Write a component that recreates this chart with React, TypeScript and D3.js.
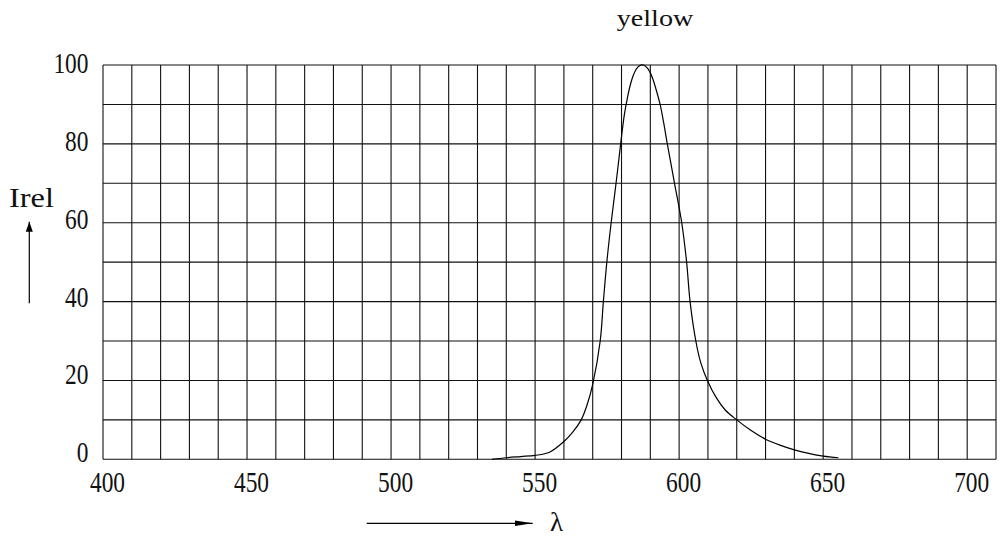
import React from "react";
import * as d3 from "d3";

const xTicks = [400, 450, 500, 550, 600, 650, 700];
const yTicks = [0, 20, 40, 60, 80, 100];
const xGrid = d3.range(400, 711, 10);
const yGrid = d3.range(0, 101, 10);

const wavelength = [535, 540, 545, 550, 555, 560, 563, 566, 568, 570, 572.6, 573.7, 574.9, 576.4, 578.1, 579.7, 581, 582, 583, 584, 585, 586, 587.6, 589, 590, 591, 592, 593.4, 594.6, 595.9, 598.4, 600.9, 602.6, 603.8, 605.8, 607.5, 609.8, 613, 616, 620, 625, 630, 635, 640, 645, 650, 655.3];
const intensity = [0, 0.4, 0.7, 1.0, 1.8, 4.5, 6.8, 10, 13.7, 19, 30, 40, 50, 60, 70, 80, 87.5, 91.5, 94.8, 97.2, 98.8, 99.7, 100, 99.2, 98, 96.2, 93.8, 90, 85.5, 80, 70, 60, 50, 40, 30, 24.5, 20, 15.5, 12.5, 10, 7.3, 5.1, 3.6, 2.4, 1.5, 0.8, 0.4];

const seriesLabel = "yellow";
const yTitle = "Irel";
const xTitle = "λ";

export default function App() {
  const x = d3.scaleLinear().domain([400, 710]).range([103, 996]);
  const y = d3.scaleLinear().domain([0, 100]).range([459.3, 65]);
  const pts: [number, number][] = wavelength.map((w, i) => [w, intensity[i]]);
  const line = d3
    .line<[number, number]>()
    .x((d) => x(d[0]))
    .y((d) => y(d[1]))
    .curve(d3.curveCatmullRom.alpha(0.5));
  const font = "'Liberation Serif', 'DejaVu Serif', serif";
  return (
    <svg
      width={1000}
      height={537}
      style={{ position: "absolute", left: 0, top: 0, background: "#fff" }}
    >
      <rect x={0} y={0} width={1000} height={537} fill="#fff" />
      <defs>
        <marker id="ah" viewBox="0 0 10 10" refX="10" refY="5" markerWidth="10" markerHeight="10" markerUnits="userSpaceOnUse" orient="auto">
          <path d="M0,1.5 L10,5 L0,8.5 Z" fill="#000" />
        </marker>
        <marker id="ah2" viewBox="0 0 18 10" refX="18" refY="5" markerWidth="18" markerHeight="8" markerUnits="userSpaceOnUse" orient="auto" preserveAspectRatio="none">
          <path d="M0,1.5 L18,5 L0,8.5 Z" fill="#000" />
        </marker>
      </defs>
      <g stroke="#111" strokeWidth={1.1} fill="none">
        {xGrid.map((v) => (
          <line key={"xv" + v} x1={x(v)} x2={x(v)} y1={y(0)} y2={y(100)} />
        ))}
        {yGrid.map((v) => (
          <line key={"yh" + v} x1={x(400)} x2={x(710)} y1={y(v)} y2={y(v)} />
        ))}
      </g>
      <path d={line(pts) || ""} fill="none" stroke="#000" strokeWidth={1.2} />
      <g fontFamily={font} fontSize={29} fill="#111">
        {xTicks.map((v) => (
          <text
            key={"xt" + v}
            x={x(v) + 4.5}
            y={492}
            textAnchor="middle"
            textLength={String(v).length * 11.7}
            lengthAdjust="spacingAndGlyphs"
          >
            {v}
          </text>
        ))}
        {yTicks.map((v) => (
          <text
            key={"yt" + v}
            x={88.5}
            y={y(v) - 1.7 - (100 - v) * 0.054 + 10}
            textAnchor="end"
            textLength={String(v).length * 11.7}
            lengthAdjust="spacingAndGlyphs"
          >
            {v}
          </text>
        ))}
      </g>
      <text
        x={616.7}
        y={26}
        fontFamily={font}
        fontSize={24}
        fill="#111"
        textLength={76.7}
        lengthAdjust="spacingAndGlyphs"
      >
        {seriesLabel}
      </text>
      <text
        x={9}
        y={206.7}
        fontFamily={font}
        fontSize={28}
        fill="#111"
        textLength={45}
        lengthAdjust="spacingAndGlyphs"
      >
        {yTitle}
      </text>
      <line x1={29.3} x2={29.3} y1={303.3} y2={221.7} stroke="#000" strokeWidth={1.2} markerEnd="url(#ah)" />
      <line x1={366.7} x2={532.7} y1={523.3} y2={523.3} stroke="#000" strokeWidth={1.2} markerEnd="url(#ah2)" />
      <text x={550} y={531} fontFamily={font} fontSize={27} fill="#111">
        {xTitle}
      </text>
    </svg>
  );
}
